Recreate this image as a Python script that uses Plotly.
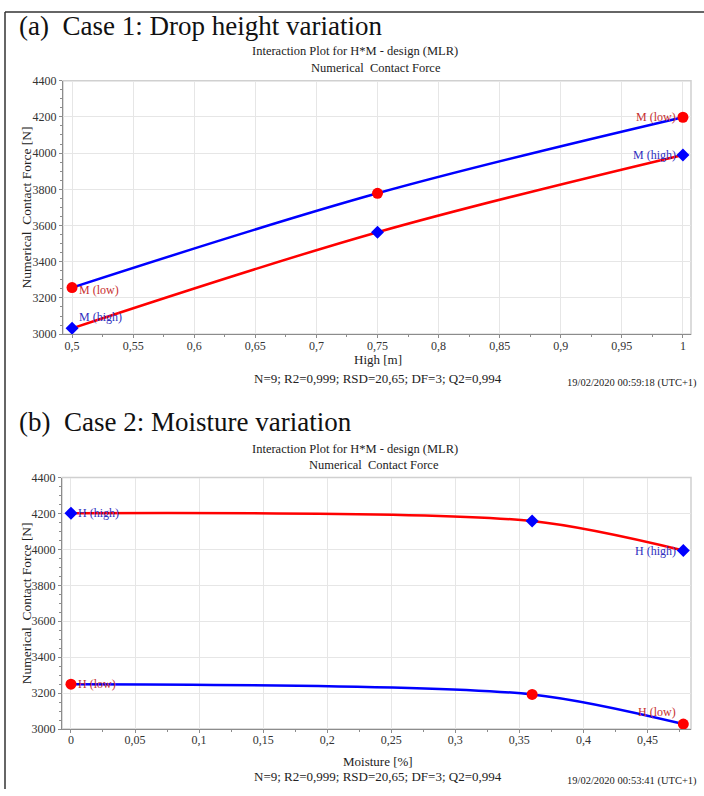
import plotly.graph_objects as go

# ---- data -------------------------------------------------------------
# Case 1: drop height variation (x = height in m)
height = [0.5, 0.75, 1.0]
force_m_low = [3257, 3778, 4198]     # red circles, blue line
force_m_high = [3032, 3563, 3990]    # blue diamonds, red line

# Case 2: moisture variation (x = moisture in %)
moisture = [0.0, 0.36, 0.478]
force_h_high = [4202, 4158, 3994]    # blue diamonds, red line
force_h_low = [3250, 3193, 3028]     # red circles, blue line

height_ticks = [0.5, 0.55, 0.6, 0.65, 0.7, 0.75, 0.8, 0.85, 0.9, 0.95, 1.0]
height_labels = ["0,5", "0,55", "0,6", "0,65", "0,7", "0,75", "0,8", "0,85", "0,9", "0,95", "1"]
moist_ticks = [0, 0.05, 0.1, 0.15, 0.2, 0.25, 0.3, 0.35, 0.4, 0.45]
moist_labels = ["0", "0,05", "0,1", "0,15", "0,2", "0,25", "0,3", "0,35", "0,4", "0,45"]

W, H = 704, 796
FONT = "Liberation Serif"
RED, BLUE = "#ff0000", "#0000ff"
RED_TXT, BLUE_TXT = "#c83030", "#3030c0"


def py(px):
    """Pixel row -> paper y."""
    return 1 - px / H


def px_x(px):
    return px / W


fig = go.Figure()


def series(x, y, line_col, mk_col, symbol, size, xa, ya, smooth):
    fig.add_trace(go.Scatter(
        x=x, y=y, mode="lines+markers", xaxis=xa, yaxis=ya,
        line=dict(color=line_col, width=2.5, shape="spline", smoothing=smooth),
        marker=dict(color=mk_col, symbol=symbol, size=size, line=dict(width=0)),
        showlegend=False, hoverinfo="skip"))


series(height, force_m_low, BLUE, RED, "circle", 11, "x", "y", 1.0)
series(height, force_m_high, RED, BLUE, "diamond", 10, "x", "y", 1.0)
series(moisture, force_h_high, RED, BLUE, "diamond", 10, "x2", "y2", 0.8)
series(moisture, force_h_low, BLUE, RED, "circle", 11, "x2", "y2", 0.8)

tick_font = dict(family=FONT, size=12, color="#333333")
axis_common = dict(
    showline=True, linecolor="#8c8c8c", linewidth=1,
    ticks="outside", ticklen=3, tickcolor="#8c8c8c",
    showgrid=True, gridcolor="#e6e6e6", gridwidth=1,
    zeroline=False, tickfont=tick_font, fixedrange=True,
)
minor_y = dict(dtick=50, tick0=3000, ticks="outside", ticklen=2,
               tickcolor="#8c8c8c", showgrid=False)

fig.update_layout(
    width=W, height=H, margin=dict(l=0, r=0, t=0, b=0),
    paper_bgcolor="white", plot_bgcolor="white",
    xaxis=dict(domain=[px_x(63), px_x(691)], range=[0.4926, 1.0066], anchor="y",
               tickmode="array", tickvals=height_ticks, ticktext=height_labels,
               ticklabelstandoff=-3,
               minor=dict(dtick=0.025, tick0=0.5, ticks="outside", ticklen=2,
                          tickcolor="#8c8c8c", showgrid=False),
               **axis_common),
    yaxis=dict(domain=[py(333), py(75)], range=[3000, 4400], anchor="x",
               dtick=200, tick0=3000, minor=minor_y, **axis_common),
    xaxis2=dict(domain=[px_x(62), px_x(691)], range=[-0.007, 0.484], anchor="y2",
                tickmode="array", tickvals=moist_ticks, ticktext=moist_labels,
                ticklabelstandoff=-3,
                minor=dict(dtick=0.025, tick0=0, ticks="outside", ticklen=2,
                           tickcolor="#8c8c8c", showgrid=False),
                **axis_common),
    yaxis2=dict(domain=[py(735), py(479)], range=[3000, 4400], anchor="x2",
                dtick=200, tick0=3000, minor=minor_y, **axis_common),
)

shapes = [
    # page frame (left and top rules)
    dict(type="line", xref="paper", yref="paper", x0=px_x(5), x1=px_x(5), y0=0, y1=py(5),
         line=dict(color="#333333", width=1.5)),
    dict(type="line", xref="paper", yref="paper", x0=px_x(5), x1=1, y0=py(5), y1=py(5),
         line=dict(color="#333333", width=1.5)),
]
# light frame on top/right of each plot area
for xa, ya in (("x", "y"), ("x2", "y2")):
    shapes.append(dict(type="rect", xref=f"{xa} domain", yref=f"{ya} domain",
                       x0=0, x1=1, y0=0, y1=1, layer="below",
                       line=dict(color="#d0d0d0", width=1.5)))
fig.update_layout(shapes=shapes)

ann = []


def text(x, y, s, size, color="#222222", xanchor="center", angle=0):
    ann.append(dict(x=x, y=y, xref="paper", yref="paper", text=s, showarrow=False,
                    xanchor=xanchor, yanchor="middle", textangle=angle,
                    font=dict(family=FONT, size=size, color=color)))


def point_label(xa, ya, x, y, s, color, side, yshift=0):
    ann.append(dict(x=x, y=y, xref=xa, yref=ya, text=s, showarrow=False,
                    xanchor="left" if side == "right" else "right", yanchor="middle",
                    xshift=5 if side == "right" else -5, yshift=yshift,
                    font=dict(family=FONT, size=12, color=color)))


# panel (a)
text(px_x(17), py(19), "(a)  Case 1: Drop height variation", 27, "#111111", "left")
text(px_x(355), py(45), "Interaction Plot for H*M - design (MLR)", 12.5)
text(px_x(376), py(62), "Numerical  Contact Force", 12.5)
text(px_x(26), py(204), "Numerical  Contact Force [N]", 13.5, angle=-90)
text(px_x(378), py(359), "High [m]", 13)
text(px_x(378), py(378), "N=9; R2=0,999; RSD=20,65; DF=3; Q2=0,994", 13)
text(px_x(699), py(383), "19/02/2020 00:59:18 (UTC+1)", 10.5, xanchor="right")

point_label("x", "y", height[0], force_m_low[0], "M (low)", RED_TXT, "right", -2)
point_label("x", "y", height[0], force_m_high[0], "M (high)", BLUE_TXT, "right", 11)
point_label("x", "y", height[-1], force_m_low[-1], "M (low)", RED_TXT, "left")
point_label("x", "y", height[-1], force_m_high[-1], "M (high)", BLUE_TXT, "left")

# panel (b)
text(px_x(17), py(422), "(b)  Case 2: Moisture variation", 27, "#111111", "left")
text(px_x(355), py(450), "Interaction Plot for H*M - design (MLR)", 12.5)
text(px_x(374), py(466), "Numerical  Contact Force", 12.5)
text(px_x(26), py(607), "Numerical  Contact Force [N]", 13.5, angle=-90)
text(px_x(378), py(768), "Moisture [%]", 13)
text(px_x(378), py(783), "N=9; R2=0,999; RSD=20,65; DF=3; Q2=0,994", 13)
text(px_x(699), py(788), "19/02/2020 00:53:41 (UTC+1)", 10.5, xanchor="right")

point_label("x2", "y2", moisture[0], force_h_high[0], "H (high)", BLUE_TXT, "right")
point_label("x2", "y2", moisture[0], force_h_low[0], "H (low)", RED_TXT, "right")
point_label("x2", "y2", moisture[-1], force_h_high[-1], "H (high)", BLUE_TXT, "left")
point_label("x2", "y2", moisture[-1], force_h_low[-1], "H (low)", RED_TXT, "left", 12)

fig.update_layout(annotations=ann)

fig.write_html("out.html")
